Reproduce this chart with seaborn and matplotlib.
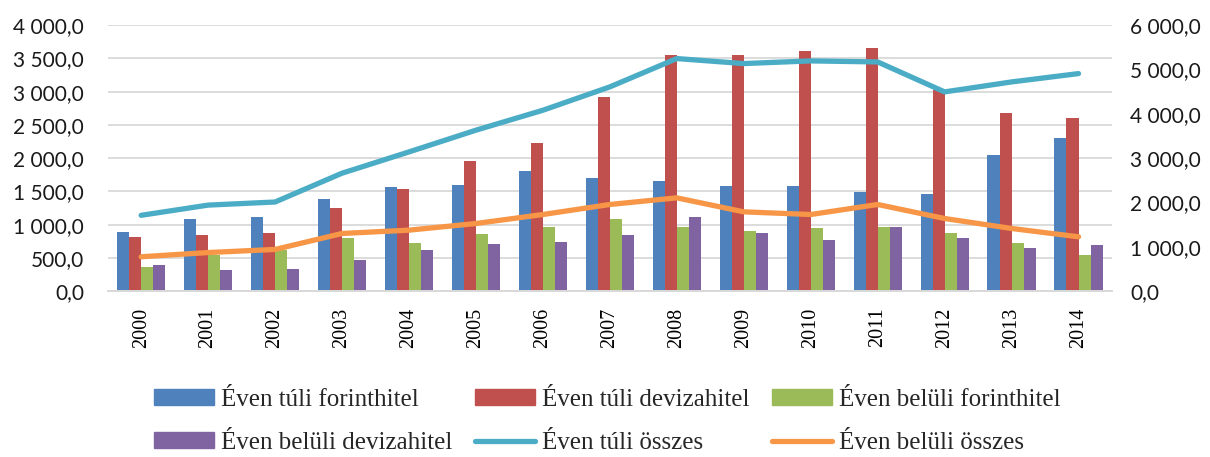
"""
Long-term and short-term loans, 2000-2014 (bars + totals on a secondary axis).
"""
import matplotlib.pyplot as plt
import pandas as pd
import seaborn as sns
from matplotlib.lines import Line2D
from matplotlib.patches import Patch
from matplotlib.ticker import FuncFormatter, MultipleLocator

YEARS = [str(y) for y in range(2000, 2015)]

# bars, left axis
TULI_FORINT = [890, 1080, 1120, 1378, 1563, 1603, 1809, 1708, 1658, 1583, 1583, 1493, 1453, 2044, 2305]
TULI_DEVIZA = [815, 840, 875, 1253, 1543, 1959, 2229, 2921, 3557, 3557, 3607, 3657, 3021, 2680, 2605]
BELULI_FORINT = [365, 540, 620, 800, 726, 857, 957, 1082, 957, 902, 952, 957, 877, 726, 541]
BELULI_DEVIZA = [390, 315, 340, 475, 621, 701, 741, 837, 1112, 877, 767, 957, 802, 641, 691]

# lines, right axis
TULI_OSSZES = [1710, 1940, 2010, 2660, 3140, 3630, 4080, 4607, 5246, 5133, 5193, 5170, 4494, 4719, 4907]
BELULI_OSSZES = [775, 870, 940, 1300, 1375, 1525, 1728, 1954, 2104, 1788, 1728, 1954, 1638, 1413, 1225]

BAR_NAMES = ['Éven túli forinthitel', 'Éven túli devizahitel',
             'Éven belüli forinthitel', 'Éven belüli devizahitel']
LINE_NAMES = ['Éven túli összes', 'Éven belüli összes']
BAR_COLORS = ['#4F81BD', '#C0504D', '#9BBB59', '#8064A2']
LINE_COLORS = ['#4BACC6', '#F79646']
SERIF = ['Liberation Serif', 'DejaVu Serif']
SANS = 'Lato'
LINE_WIDTH = 3.8


def hu_number(v, pos=None):
    # 4 000,0 style
    return f'{v:,.1f}'.replace(',', ' ').replace('.', ',')


def main():
    df = pd.DataFrame({
        'Év': YEARS,
        BAR_NAMES[0]: TULI_FORINT,
        BAR_NAMES[1]: TULI_DEVIZA,
        BAR_NAMES[2]: BELULI_FORINT,
        BAR_NAMES[3]: BELULI_DEVIZA,
        LINE_NAMES[0]: TULI_OSSZES,
        LINE_NAMES[1]: BELULI_OSSZES,
    })
    bars = df.melt(id_vars='Év', value_vars=BAR_NAMES, var_name='sorozat', value_name='érték')
    lines = df.melt(id_vars='Év', value_vars=LINE_NAMES, var_name='sorozat', value_name='érték')

    sns.set_theme(style='white')
    plt.rcParams['font.family'] = SERIF
    plt.rcParams['lines.solid_capstyle'] = 'round'

    fig = plt.figure(figsize=(12.1, 4.57), dpi=100)
    ax = fig.add_axes([0.089, 0.363, 0.83, 0.582])

    sns.barplot(data=bars, x='Év', y='érték', hue='sorozat', hue_order=BAR_NAMES,
                palette=BAR_COLORS, saturation=1, width=0.72, linewidth=0,
                legend=False, ax=ax)
    ax.set_ylim(0, 4000)
    ax.yaxis.set_major_locator(MultipleLocator(500))
    ax.yaxis.set_major_formatter(FuncFormatter(hu_number))
    ax.grid(axis='y', color='#D9D9D9', linewidth=1.3)
    ax.set_axisbelow(True)

    ax2 = ax.twinx()
    sns.pointplot(data=lines, x='Év', y='érték', hue='sorozat', hue_order=LINE_NAMES,
                  palette=LINE_COLORS, markers='', linewidth=LINE_WIDTH,
                  errorbar=None, legend=False, ax=ax2)
    ax2.set_ylim(0, 6000)
    ax2.yaxis.set_major_locator(MultipleLocator(1000))
    ax2.yaxis.set_major_formatter(FuncFormatter(hu_number))
    ax2.grid(False)

    for a in (ax, ax2):
        a.set_xlabel(None)
        a.set_ylabel(None)
        for side in ('top', 'left', 'right'):
            a.spines[side].set_visible(False)
        a.spines['bottom'].set_color('#D9D9D9')
        a.spines['bottom'].set_linewidth(1.3)
        a.tick_params(length=0, colors='black')
        a.tick_params(axis='y', labelsize=15, labelfontfamily=SANS, labelcolor='#1a1a1a')
    ax.set_xlim(-0.5, len(YEARS) - 0.5)
    ax.tick_params(axis='y', pad=17)
    ax2.tick_params(axis='y', pad=13)
    ax.tick_params(axis='x', pad=12, labelrotation=90, labelsize=14.5)

    # legend, filled column by column -> order handles so rows read left to right
    bar_handles = [Patch(color=c) for c in BAR_COLORS]
    line_handles = [Line2D([], [], color=c, linewidth=LINE_WIDTH) for c in LINE_COLORS]
    handles = [bar_handles[0], bar_handles[3], bar_handles[1], line_handles[0],
               bar_handles[2], line_handles[1]]
    labels = [BAR_NAMES[0], BAR_NAMES[3], BAR_NAMES[1], LINE_NAMES[0],
              BAR_NAMES[2], LINE_NAMES[1]]
    fig.legend(handles, labels, ncol=3, loc='center', bbox_to_anchor=(0.502, 0.078),
               frameon=False, fontsize=18, handlelength=2.4, handleheight=0.6,
               handletextpad=0.28, columnspacing=0.9, labelspacing=0.85)

    fig.savefig('out.png', dpi=100)


if __name__ == '__main__':
    main()
